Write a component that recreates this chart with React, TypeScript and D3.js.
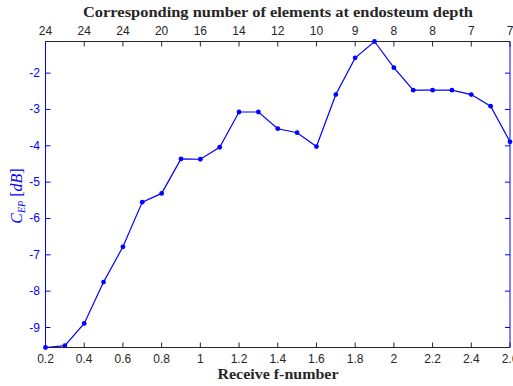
import React from 'react';
import * as d3 from 'd3';

// receive f-number (x) and contrast C_EP in dB (y)
const fNumbers = [0.2, 0.3, 0.4, 0.5, 0.6, 0.7, 0.8, 0.9, 1.0, 1.1, 1.2, 1.3, 1.4, 1.5, 1.6, 1.7, 1.8, 1.9, 2.0, 2.1, 2.2, 2.3, 2.4, 2.5, 2.6];
const cep = [-9.55, -9.5, -8.89, -7.75, -6.78, -5.55, -5.31, -4.36, -4.37, -4.04, -3.07, -3.07, -3.53, -3.64, -4.02, -2.59, -1.58, -1.13, -1.85, -2.47, -2.47, -2.47, -2.59, -2.91, -3.89];

const xTicks = [0.2, 0.4, 0.6, 0.8, 1, 1.2, 1.4, 1.6, 1.8, 2, 2.2, 2.4, 2.6];
const topLabels = ['24', '24', '24', '20', '16', '14', '12', '10', '9', '8', '8', '7', '7'];
const yTicks = [-9, -8, -7, -6, -5, -4, -3, -2];

const W = 513;
const H = 386;
const left = 45.5;
const right = 510;
const top = 41.5;
const bottom = 347.5;

const BLUE = '#0000ff';
const GRAY = '#262626';
const sans = 'Liberation Sans, Arial, sans-serif';
const serif = 'Liberation Serif, Times New Roman, serif';

const App: React.FC = () => {
  const x = d3.scaleLinear().domain([0.2, 2.6]).range([left, right]);
  const ext = d3.extent(cep) as [number, number];
  const y = d3.scaleLinear().domain(ext).range([bottom, top]);

  const pts = fNumbers.map((f, i) => ({ f, v: cep[i] }));
  const line = d3.line<{ f: number; v: number }>()
    .x(d => x(d.f))
    .y(d => y(d.v));

  const fmt = (d: number) => String(d);

  return (
    <svg width={W} height={H} style={{ position: 'absolute', left: 0, top: 0, background: '#fff' }}>
      <rect x={0} y={0} width={W} height={H} fill="#fff" />

      {/* top title */}
      <text x={278} y={17} textAnchor="middle" fontFamily={serif} fontWeight="bold" fontSize={14}
        textLength={390} lengthAdjust="spacingAndGlyphs" fill={GRAY}>
        Corresponding number of elements at endosteum depth
      </text>

      {/* frame: top and bottom in gray */}
      <line x1={left} x2={right} y1={top} y2={top} stroke={GRAY} strokeWidth={1} />
      <line x1={left} x2={right} y1={bottom} y2={bottom} stroke={GRAY} strokeWidth={1} />

      {/* x ticks, bottom and top */}
      {xTicks.map((t, i) => (
        <g key={'xt' + i}>
          <line x1={x(t)} x2={x(t)} y1={bottom} y2={bottom - 5} stroke={GRAY} strokeWidth={1} />
          <line x1={x(t)} x2={x(t)} y1={top} y2={top + 5} stroke={GRAY} strokeWidth={1} />
          <text x={x(t)} y={363} textAnchor="middle" fontFamily={sans} fontSize={12} fill={GRAY}>{fmt(t)}</text>
          <text x={x(t)} y={35} textAnchor="middle" fontFamily={sans} fontSize={12} fill={GRAY}>{topLabels[i]}</text>
        </g>
      ))}

      {/* left and right y axes in blue */}
      <line x1={left} x2={left} y1={top} y2={bottom} stroke={BLUE} strokeWidth={1} />
      <line x1={right} x2={right} y1={top} y2={bottom} stroke={BLUE} strokeWidth={1} />
      {yTicks.map(t => (
        <g key={'yt' + t}>
          <line x1={left} x2={left + 5} y1={y(t)} y2={y(t)} stroke={BLUE} strokeWidth={1} />
          <line x1={right} x2={right - 5} y1={y(t)} y2={y(t)} stroke={BLUE} strokeWidth={1} />
          <text x={40} y={y(t) + 4} textAnchor="end" fontFamily={sans} fontSize={12} fill={BLUE}>{t}</text>
        </g>
      ))}

      {/* y label */}
      <text transform="translate(22,196) rotate(-90)" textAnchor="middle" fontFamily={serif}
        fontSize={16} fill={BLUE}>
        <tspan fontStyle="italic">C</tspan>
        <tspan fontStyle="italic" fontSize={10} dy={3}>EP</tspan>
        <tspan dy={-3}> [</tspan>
        <tspan fontStyle="italic">dB</tspan>
        <tspan>]</tspan>
      </text>

      {/* x label */}
      <text x={278} y={379} textAnchor="middle" fontFamily={serif} fontWeight="bold" fontSize={14}
        textLength={121} lengthAdjust="spacingAndGlyphs" fill={GRAY}>
        Receive f-number
      </text>

      {/* data */}
      <path d={line(pts) || ''} fill="none" stroke={BLUE} strokeWidth={1.2} />
      {pts.map((p, i) => (
        <circle key={'p' + i} cx={x(p.f)} cy={y(p.v)} r={2.4} fill={BLUE} />
      ))}
    </svg>
  );
};

export default App;
